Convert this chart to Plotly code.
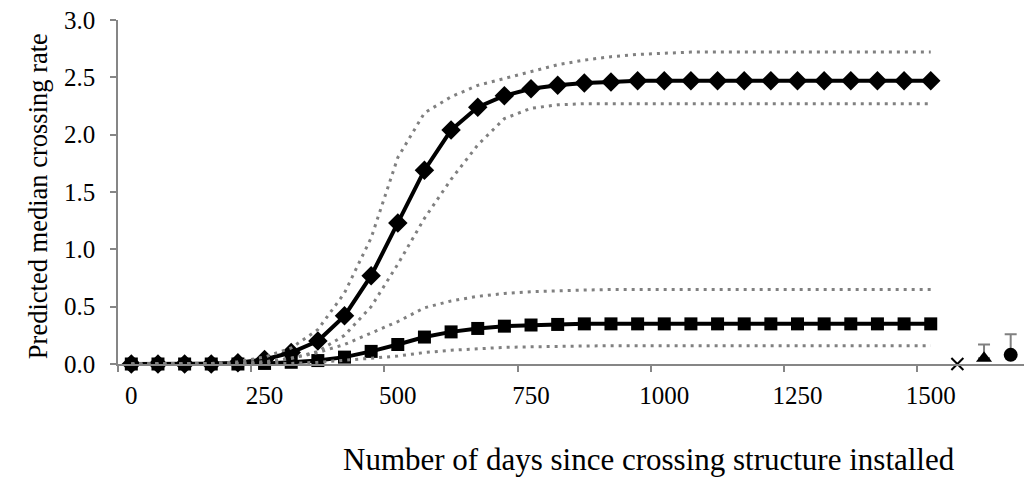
import plotly.graph_objects as go

days = [0, 50, 100, 150, 200, 250, 300, 350, 400, 450, 500, 550, 600, 650, 700, 750,
        800, 850, 900, 950, 1000, 1050, 1100, 1150, 1200, 1250, 1300, 1350, 1400, 1450, 1500]

high_median = [0, 0, 0, 0, 0.01, 0.04, 0.10, 0.20, 0.42, 0.77, 1.23, 1.69, 2.04, 2.24, 2.34, 2.40,
               2.43, 2.45, 2.46, 2.47, 2.47, 2.47, 2.47, 2.47, 2.47, 2.47, 2.47, 2.47, 2.47, 2.47, 2.47]
high_upper = [0, 0, 0, 0.005, 0.02, 0.06, 0.14, 0.30, 0.62, 1.10, 1.80, 2.19, 2.33, 2.43, 2.49, 2.55,
              2.61, 2.65, 2.68, 2.70, 2.71, 2.72, 2.72, 2.72, 2.72, 2.72, 2.72, 2.72, 2.72, 2.72, 2.72]
high_lower = [0, 0, 0, 0, 0, 0.01, 0.05, 0.11, 0.25, 0.50, 0.87, 1.27, 1.61, 1.91, 2.14, 2.23,
              2.26, 2.27, 2.27, 2.27, 2.27, 2.27, 2.27, 2.27, 2.27, 2.27, 2.27, 2.27, 2.27, 2.27, 2.27]

low_median = [0, 0, 0, 0, 0, 0.005, 0.015, 0.03, 0.06, 0.11, 0.17, 0.235, 0.28, 0.31, 0.33, 0.34,
              0.345, 0.35, 0.35, 0.35, 0.35, 0.35, 0.35, 0.35, 0.35, 0.35, 0.35, 0.35, 0.35, 0.35, 0.35]
low_upper = [0, 0, 0, 0, 0.005, 0.02, 0.05, 0.10, 0.17, 0.27, 0.37, 0.49, 0.55, 0.59, 0.615, 0.63,
             0.64, 0.645, 0.65, 0.65, 0.65, 0.65, 0.65, 0.65, 0.65, 0.65, 0.65, 0.65, 0.65, 0.65, 0.65]
low_lower = [0, 0, 0, 0, 0, 0, 0.005, 0.015, 0.03, 0.05, 0.07, 0.10, 0.12, 0.135, 0.145, 0.15,
             0.155, 0.16, 0.16, 0.16, 0.16, 0.16, 0.16, 0.16, 0.16, 0.16, 0.16, 0.16, 0.16, 0.16, 0.16]

# observed points placed in the extra categories after 1500
obs_x = [1550, 1600, 1650]
obs_y = [0.0, 0.05, 0.08]
obs_err = [0.0, 0.12, 0.18]
obs_symbols = ["x-thin-open", "triangle-up", "circle"]

tick_vals = [0, 250, 500, 750, 1000, 1250, 1500]
tick_text = ["0", "250", "500", "750", "1000", "1250", "1500"]
y_ticks = [0, 0.5, 1.0, 1.5, 2.0, 2.5, 3.0]

FONT = "Liberation Serif, Times New Roman, serif"
AXIS_COLOR = "#868686"
CI_COLOR = "#808080"

fig = go.Figure()

fig.add_trace(go.Scatter(x=days, y=high_median, mode="lines+markers",
                         line=dict(color="black", width=4),
                         marker=dict(symbol="diamond", size=15, color="black"),
                         cliponaxis=False, showlegend=False))
fig.add_trace(go.Scatter(x=days, y=low_median, mode="lines+markers",
                         line=dict(color="black", width=4),
                         marker=dict(symbol="square", size=13, color="black"),
                         cliponaxis=False, showlegend=False))

for ci in [high_upper, high_lower, low_upper, low_lower]:
    fig.add_trace(go.Scatter(x=days, y=ci, mode="lines",
                             line=dict(color=CI_COLOR, width=3, dash="3px,5px"),
                             cliponaxis=False, showlegend=False))

for xv, yv, ev, sym in zip(obs_x, obs_y, obs_err, obs_symbols):
    marker = dict(symbol=sym, size=14, color="black")
    if sym == "x-thin-open":
        marker = dict(symbol=sym, size=12, color="black", line=dict(color="black", width=2))
    err = None
    if ev > 0:
        err = dict(type="data", symmetric=False, array=[ev], arrayminus=[0],
                   color=CI_COLOR, thickness=2, width=6)
    fig.add_trace(go.Scatter(x=[xv], y=[yv], mode="markers", marker=marker,
                             error_y=err, cliponaxis=False, showlegend=False))

fig.update_layout(
    width=1025, height=484,
    margin=dict(l=118, r=1, t=20, b=120),
    paper_bgcolor="white", plot_bgcolor="white",
    font=dict(family=FONT, size=25, color="black"),
    xaxis=dict(range=[-25, 1675], tickmode="array", tickvals=tick_vals, ticktext=tick_text,
               ticks="", showgrid=False, zeroline=False,
               showline=True, linecolor=AXIS_COLOR, linewidth=1.5,
               minor=dict(tick0=-25, dtick=250, ticks="outside", ticklen=6,
                          tickcolor=AXIS_COLOR, tickwidth=1.5, showgrid=False),
               ticklabelstandoff=8,
               tickfont=dict(family=FONT, size=25, color="black")),
    yaxis=dict(range=[0, 3], tickmode="array", tickvals=y_ticks, tickformat=".1f",
               ticks="outside", ticklen=6, tickcolor=AXIS_COLOR, tickwidth=1.5,
               showgrid=False, zeroline=False,
               showline=True, linecolor=AXIS_COLOR, linewidth=1.5,
               ticklabelstandoff=10,
               tickfont=dict(family=FONT, size=25, color="black")),
)

fig.add_annotation(text="Number of days since crossing structure installed",
                   xref="paper", yref="paper", x=0.586, y=-0.279,
                   xanchor="center", yanchor="middle", showarrow=False,
                   font=dict(family=FONT, size=31))
fig.add_annotation(text="Predicted median crossing rate",
                   xref="paper", yref="paper", x=-0.0883, y=0.488, textangle=-90,
                   xanchor="center", yanchor="middle", showarrow=False,
                   font=dict(family=FONT, size=26.5))

fig.write_html("out.html", config={"displayModeBar": False},
               post_script="document.body.style.margin='0';")
